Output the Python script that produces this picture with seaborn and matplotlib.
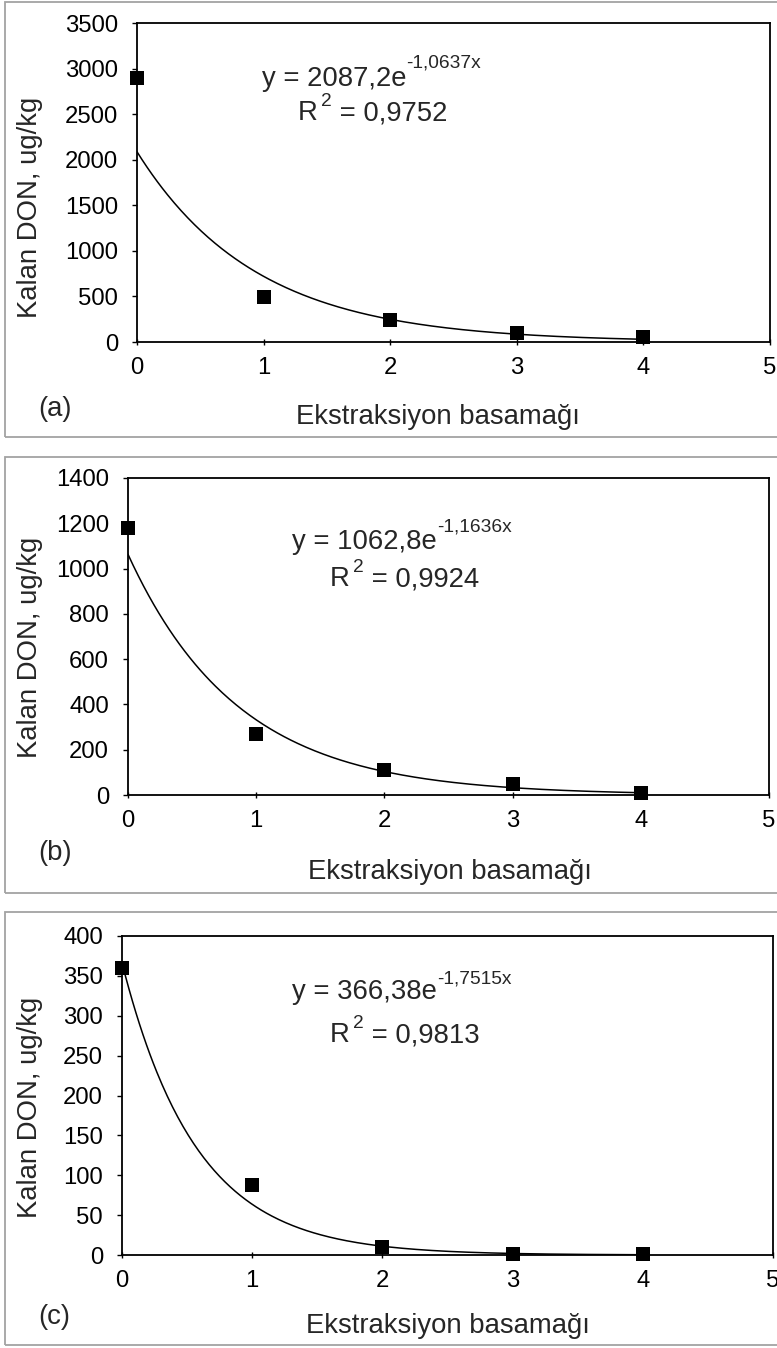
import numpy as np
import matplotlib
matplotlib.use("Agg")
import matplotlib.pyplot as plt
from matplotlib.patches import Rectangle
from matplotlib.transforms import IdentityTransform
import seaborn as sns

# Extraction step (x) and remaining DON (ug/kg) for the three samples
steps = [0, 1, 2, 3, 4]
don_a = [2900, 490, 240, 100, 50]
don_b = [1180, 270, 110, 48, 9]
don_c = [360, 88, 10, 1.5, 1]

# Exponential trend lines y = A * exp(k x) with their R^2
fit_a_coef = [2087.2, 1062.8, 366.38]
fit_k = [-1.0637, -1.1636, -1.7515]
fit_r2 = [0.9752, 0.9924, 0.9813]
coef_text = ["2087,2", "1062,8", "366,38"]
k_text = ["-1,0637x", "-1,1636x", "-1,7515x"]
r2_text = ["0,9752", "0,9924", "0,9813"]

panel_tags = ["(a)", "(b)", "(c)"]
y_maxima = [3500, 1400, 400]
y_steps = [500, 200, 50]
x_ticks = [0, 1, 2, 3, 4, 5]
x_label = "Ekstraksiyon basamağı"
y_label = "Kalan DON, ug/kg"

sns.set_theme(style="white")
plt.rcParams["font.family"] = ["Liberation Sans", "DejaVu Sans"]

W, H = 777, 1348
fig = plt.figure(figsize=(W / 100, H / 100), dpi=100)
fig.patch.set_facecolor("white")


def fx(x):
    return x / W


def fy(y):
    return 1 - y / H


# layout in pixels: axes box (left, top, right, bottom), outer frame (top, bottom),
# equation origin, R^2 origin, tag/xlabel/ylabel positions
layout = [
    dict(ax=(137, 23, 770, 342), frame=(2, 437), eq=(262, 86, 68), r2=(298, 120),
         tag=(38, 416), xl=(438, 424), yl=(30, 207)),
    dict(ax=(128, 478, 769, 795), frame=(457, 893), eq=(292, 549, 532), r2=(330, 586),
         tag=(38, 860), xl=(450, 879), yl=(30, 647)),
    dict(ax=(122, 936, 773, 1255), frame=(912, 1345), eq=(292, 999, 983), r2=(330, 1042),
         tag=(38, 1324), xl=(448, 1333), yl=(30, 1107)),
]

datasets = [don_a, don_b, don_c]
MAIN = 19.8
SUP = 13.8
TICK = 17.2

texts_chain = []

for i, (vals, lay) in enumerate(zip(datasets, layout)):
    l, t, r, b = lay["ax"]
    ax = fig.add_axes([fx(l), fy(b), (r - l) / W, (b - t) / H])
    ax.set_facecolor("white")

    xs = np.linspace(0, 4, 300)
    ys = fit_a_coef[i] * np.exp(fit_k[i] * xs)
    sns.lineplot(x=xs, y=ys, color="black", linewidth=1.1, ax=ax, zorder=3)
    sns.scatterplot(x=steps, y=vals, marker="s", s=100, color="black",
                    linewidth=0, ax=ax, clip_on=False, zorder=6)

    ax.set_xlim(0, 5)
    ax.set_ylim(0, y_maxima[i])
    ax.set_xticks(x_ticks)
    ax.set_yticks(np.arange(0, y_maxima[i] + 1, y_steps[i]))
    ax.set_xlabel("")
    ax.set_ylabel("")
    for sp in ax.spines.values():
        sp.set_color("black")
        sp.set_linewidth(1.3)
    ax.tick_params(axis="y", direction="out", length=3.6, width=1, pad=10,
                   labelsize=TICK, colors="black", left=True)
    ax.tick_params(axis="x", direction="inout", length=5, width=1, pad=8.5,
                   labelsize=TICK, colors="black", bottom=True)

    # grey frame around each panel
    ft, fb = lay["frame"]
    fig.add_artist(Rectangle((fx(5), fy(fb)), (820 - 5) / W, (fb - ft) / H,
                             transform=fig.transFigure, fill=False,
                             edgecolor="#a3a3a3", linewidth=1.3))

    tx, ty = lay["tag"]
    fig.text(fx(tx), fy(ty), panel_tags[i], fontsize=MAIN, ha="left", va="baseline")
    xx, xy = lay["xl"]
    fig.text(fx(xx), fy(xy), x_label, fontsize=MAIN, ha="center", va="baseline")
    yx, yy = lay["yl"]
    fig.text(fx(yx), fy(yy), y_label, fontsize=MAIN, ha="center", va="center",
             rotation=90)

    ex, eb, esb = lay["eq"]
    rx, rb = lay["r2"]
    texts_chain.append([(ex, eb, "y = " + coef_text[i] + "e", MAIN, 0),
                        (None, esb, k_text[i], SUP, 0)])
    texts_chain.append([(rx, rb, "R", MAIN, 0),
                        (None, rb - 14, "2", SUP, 3),
                        (None, rb, " = " + r2_text[i], MAIN, 0)])

renderer = fig.canvas.get_renderer()
for chain in texts_chain:
    cur_x = None
    for x0, base, s, size, gap in chain:
        px = x0 if x0 is not None else cur_x + gap
        txt = fig.text(px, H - base, s, fontsize=size, ha="left", va="baseline",
                       transform=IdentityTransform())
        cur_x = txt.get_window_extent(renderer).x1

fig.savefig("out.png", dpi=100, facecolor="white")
